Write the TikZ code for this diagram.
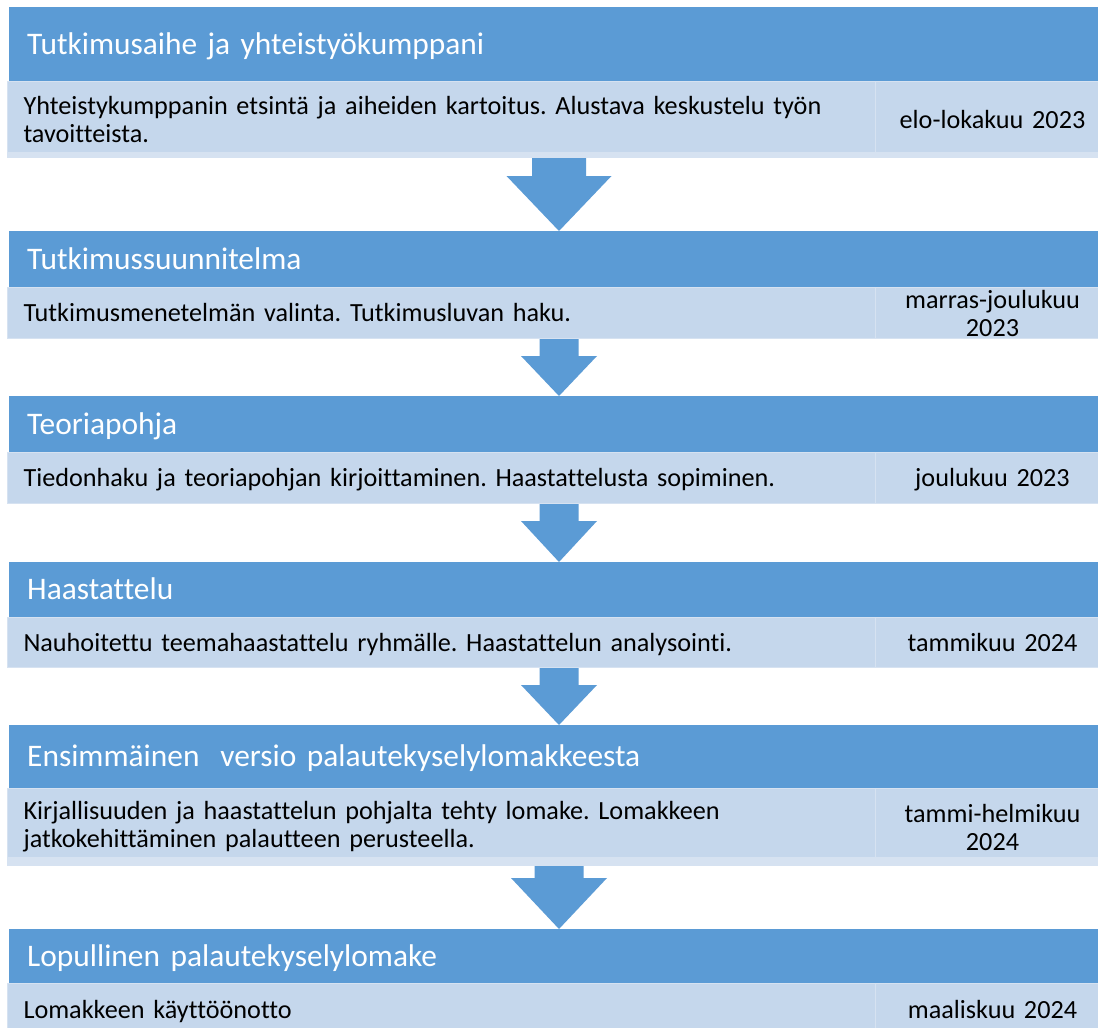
\documentclass[tikz,border=0pt]{standalone}
\usepackage{fontspec}
\setmainfont[Ligatures=NoCommon]{Carlito}
\usetikzlibrary{calc}
\definecolor{hdrblue}{HTML}{5B9BD5}
\definecolor{rowblue}{HTML}{C5D7EC}
\definecolor{rowedge}{HTML}{D6E2F1}
\tikzset{
  hdr/.style={anchor=north west, fill=hdrblue, text=white, minimum width=1089pt,
    text width=1053pt, inner xsep=18pt, inner ysep=0pt, align=left,
    font=\fontsize{31.4}{38}\selectfont, text height=20.5pt, text depth=0pt},
  cellL/.style={anchor=north west, fill=rowblue, draw=rowedge, line width=1pt,
    minimum width=868pt, text width=836pt, inner xsep=16pt, inner ysep=0pt,
    align=left, font=\fontsize{26.2}{28}\selectfont},
  cellD/.style={anchor=north west, fill=rowblue, draw=rowedge, line width=1pt,
    minimum width=234pt, text width=210pt, inner xsep=12pt, inner ysep=0pt,
    align=center, font=\fontsize{26.2}{28}\selectfont},
  oneline/.style={text height=17pt, text depth=0pt},
  band/.style={fill=rowedge},
  arrowfill/.style={fill=hdrblue}
}
\newcommand\blockarrow[5]{%
  \path[arrowfill] let \p1=(#1.south), \p2=(#2.north) in
    ({(559-#3)*1pt},\y1) -- ({(559+#3)*1pt},\y1) -- ({(559+#3)*1pt},{\y2+#5pt})
    -- ({(559+#4)*1pt},{\y2+#5pt}) -- (559pt,\y2) -- ({(559-#4)*1pt},{\y2+#5pt})
    -- ({(559-#3)*1pt},{\y2+#5pt}) -- cycle;}
\begin{document}
\frenchspacing
\begin{tikzpicture}[x=1pt,y=-1pt]
\useasboundingbox[fill=white] (0,0) rectangle (1098,1028);

% block 1
\node[hdr, minimum height=74pt] (h1) at (9,7) {Tutkimusaihe ja yhteistyökumppani};
\node[cellL, minimum height=76pt] (l1) at (7,81) {Yhteistykumppanin etsintä ja aiheiden kartoitus. Alustava keskustelu työn\\tavoitteista.};
\node[cellD, oneline, minimum height=76pt] (d1) at (875,81) {elo-lokakuu 2023};
\fill[band] ($(l1.south west)+(0,-6)$) rectangle (d1.south east);

% block 2
\node[hdr, minimum height=56pt] (h2) at (9,231) {Tutkimussuunnitelma};
\node[cellL, oneline, minimum height=51pt] (l2) at (7,287) {Tutkimusmenetelmän valinta. Tutkimusluvan haku.};
\node[cellD, minimum height=51pt] (d2) at (875,287) {marras-joulukuu\\2023};

% block 3
\node[hdr, minimum height=56pt] (h3) at (9,396) {Teoriapohja};
\node[cellL, oneline, minimum height=51pt] (l3) at (7,452) {Tiedonhaku ja teoriapohjan kirjoittaminen. Haastattelusta sopiminen.};
\node[cellD, oneline, minimum height=51pt] (d3) at (875,452) {joulukuu 2023};

% block 4
\node[hdr, minimum height=55pt] (h4) at (9,562) {Haastattelu};
\node[cellL, oneline, minimum height=50pt] (l4) at (7,617) {Nauhoitettu teemahaastattelu ryhmälle. Haastattelun analysointi.};
\node[cellD, oneline, minimum height=50pt] (d4) at (875,617) {tammikuu 2024};

% block 5
\node[hdr, minimum height=63pt] (h5) at (9,725) {Ensimmäinen\ \ versio palautekyselylomakkeesta};
\node[cellL, minimum height=77pt] (l5) at (7,788) {Kirjallisuuden ja haastattelun pohjalta tehty lomake. Lomakkeen\\jatkokehittäminen palautteen perusteella.};
\node[cellD, minimum height=77pt] (d5) at (875,788) {tammi-helmikuu\\2024};
\fill[band] ($(l5.south west)+(0,-9)$) rectangle (d5.south east);

% block 6
\node[hdr, minimum height=54pt] (h6) at (9,929) {Lopullinen palautekyselylomake};
\node[cellL, oneline, minimum height=53pt] (l6) at (7,983) {Lomakkeen käyttöönotto};
\node[cellD, oneline, minimum height=53pt] (d6) at (875,983) {maaliskuu 2024};

% arrows
\blockarrow{l1}{h2}{27}{52.5}{55}
\blockarrow{l2}{h3}{19.5}{38}{40}
\blockarrow{l3}{h4}{19.5}{38}{41}
\blockarrow{l4}{h5}{19.5}{38}{40}
\blockarrow{l5}{h6}{24.5}{48}{51}
\end{tikzpicture}
\end{document}
